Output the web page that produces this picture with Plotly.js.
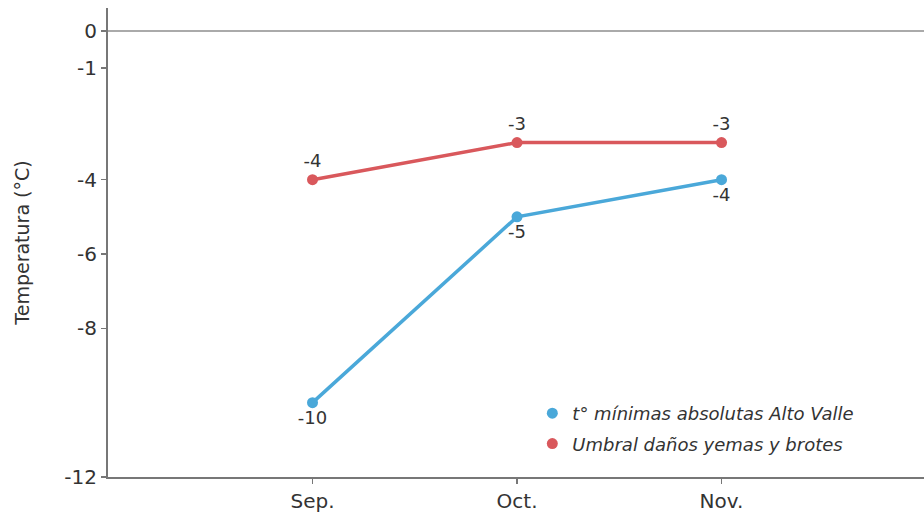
<!DOCTYPE html>
<html>
<head>
<meta charset="utf-8">
<script src="https://cdn.plot.ly/plotly-3.0.1.min.js"></script>
<style>html,body{margin:0;padding:0;background:#fff;}#chart{width:924px;height:515px;}</style>
</head>
<body>
<div id="chart"></div>
<script>
const months = ['Sep.', 'Oct.', 'Nov.'];
const minTemps = [-10, -5, -4];
const damageThreshold = [-4, -3, -3];
const seriesNames = ['t° mínimas absolutas Alto Valle', 'Umbral daños yemas y brotes'];
const yTickVals = [0, -1, -4, -6, -8, -12];
const yTickText = ['0', '-1', '-4', '-6', '-8', '-12'];

const blue = '#4aa8d9';
const red = '#d9585c';
const fontFam = '"DejaVu Sans", sans-serif';

const traces = [
  {
    x: months, y: damageThreshold, mode: 'lines+markers+text',
    text: damageThreshold.map(String), textposition: 'top center',
    textfont: {size: 18, color: '#333', family: fontFam},
    line: {color: red, width: 3.5}, marker: {color: red, size: 11},
    showlegend: false, cliponaxis: false
  },
  {
    x: months, y: minTemps, mode: 'lines+markers+text',
    text: minTemps.map(String), textposition: 'bottom center',
    textfont: {size: 18, color: '#333', family: fontFam},
    line: {color: blue, width: 3.5}, marker: {color: blue, size: 11},
    showlegend: false, cliponaxis: false
  },
  {x: [null], y: [null], mode: 'markers', name: seriesNames[0], legendgroup: 'a', marker: {color: blue, size: 11}},
  {x: [null], y: [null], mode: 'markers', name: seriesNames[1], legendgroup: 'b', marker: {color: red, size: 11}}
];

const layout = {
  width: 924, height: 515,
  margin: {l: 108, r: 0, t: 8, b: 38},
  paper_bgcolor: '#fff', plot_bgcolor: '#fff',
  font: {family: fontFam, color: '#333', size: 19},
  showlegend: true,
  legend: {
    x: 0.52, y: 0.175, xanchor: 'left', yanchor: 'top',
    font: {size: 18, color: '#333', family: fontFam, style: 'italic'},
    bgcolor: 'rgba(0,0,0,0)', itemwidth: 30, tracegroupgap: 4
  },
  xaxis: {
    type: 'category', range: [-1, 2.99],
    showline: true, linecolor: '#777', linewidth: 2,
    ticks: 'outside', ticklen: 5, tickcolor: '#777', tickwidth: 1.5,
    showgrid: false, zeroline: false,
    tickfont: {size: 20, color: '#333'}
  },
  yaxis: {
    range: [-12, 0.62],
    tickvals: yTickVals, ticktext: yTickText,
    showline: true, linecolor: '#777', linewidth: 2,
    ticks: 'outside', ticklen: 5, tickcolor: '#777', tickwidth: 1.5,
    showgrid: false,
    zeroline: true, zerolinecolor: '#aaa', zerolinewidth: 2,
    tickfont: {size: 20, color: '#333'},
    title: {text: 'Temperatura (°C)', font: {size: 19, color: '#333'}, standoff: 30}
  }
};

Plotly.newPlot('chart', traces, layout, {displayModeBar: false, staticPlot: true});
</script>
</body>
</html>
